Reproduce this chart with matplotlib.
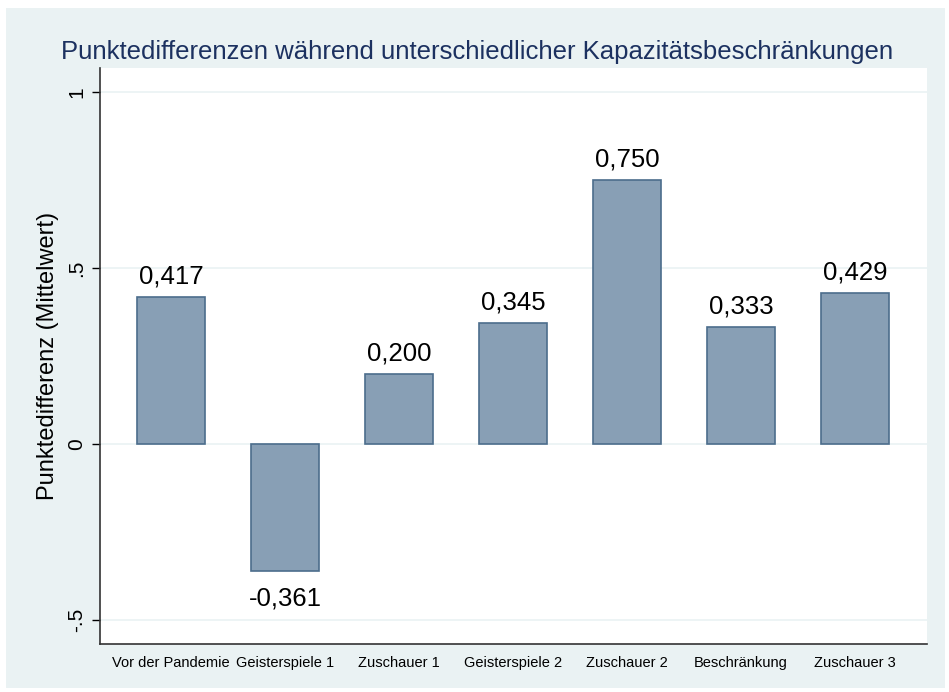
import matplotlib.pyplot as plt
from matplotlib.patches import Rectangle

plt.rcParams['font.family'] = ['Liberation Sans', 'DejaVu Sans']

categories = ['Vor der Pandemie', 'Geisterspiele 1', 'Zuschauer 1', 'Geisterspiele 2',
              'Zuschauer 2', 'Beschränkung', 'Zuschauer 3']
values = [0.417, -0.361, 0.200, 0.345, 0.750, 0.333, 0.429]
yticks = [-0.5, 0, 0.5, 1]
ytick_labels = ['-.5', '0', '.5', '1']

bg = '#eaf2f3'
fig = plt.figure(figsize=(9.49, 6.92), dpi=100, facecolor='white')
fig.patches.append(Rectangle((6 / 949, 4 / 692), 939 / 949, 680 / 692,
                             transform=fig.transFigure, facecolor=bg,
                             edgecolor='none', zorder=-10))
ax = fig.add_axes([100 / 949, 48 / 692, 827 / 949, 576 / 692])
ax.set_facecolor('white')

x = range(len(categories))
ax.bar(x, values, width=0.6, color='#889fb5', edgecolor='#4c6d8c', linewidth=1.2, zorder=3)

for xi, v in zip(x, values):
    if v >= 0:
        ax.annotate(f'{v:.3f}'.replace('.', ','), (xi, v), xytext=(0, 6),
                    textcoords='offset points', ha='center', va='bottom', fontsize=18.5)
    else:
        ax.annotate(f'{v:.3f}'.replace('.', ','), (xi, v), xytext=(0, -11),
                    textcoords='offset points', ha='center', va='top', fontsize=18.5)

ax.set_xlim(-0.623, 6.63)
ax.set_ylim(-0.568, 1.068)
ax.set_xticks(list(x))
ax.set_xticklabels(categories, fontsize=10.5, va='baseline')
ax.tick_params(axis='x', length=0, pad=16.5)
ax.set_yticks(yticks)
ax.set_yticklabels(ytick_labels, fontsize=15, rotation=90, va='center')
ax.tick_params(axis='y', length=6, width=1, pad=4)
ax.grid(axis='y', color=bg, linewidth=1.2, zorder=0)

ax.spines['top'].set_visible(False)
ax.spines['right'].set_visible(False)
ax.spines['left'].set_color('#333333')
ax.spines['bottom'].set_color('#333333')
ax.spines['left'].set_linewidth(1.2)
ax.spines['bottom'].set_linewidth(1.2)

ax.set_ylabel('Punktedifferenz (Mittelwert)', fontsize=17, labelpad=6)
fig.text(477 / 949, 1 - 52 / 692, 'Punktedifferenzen während unterschiedlicher Kapazitätsbeschränkungen',
         ha='center', va='center', fontsize=18.5, color='#1c3160')

fig.savefig('out.png', dpi=100, facecolor=fig.get_facecolor())
